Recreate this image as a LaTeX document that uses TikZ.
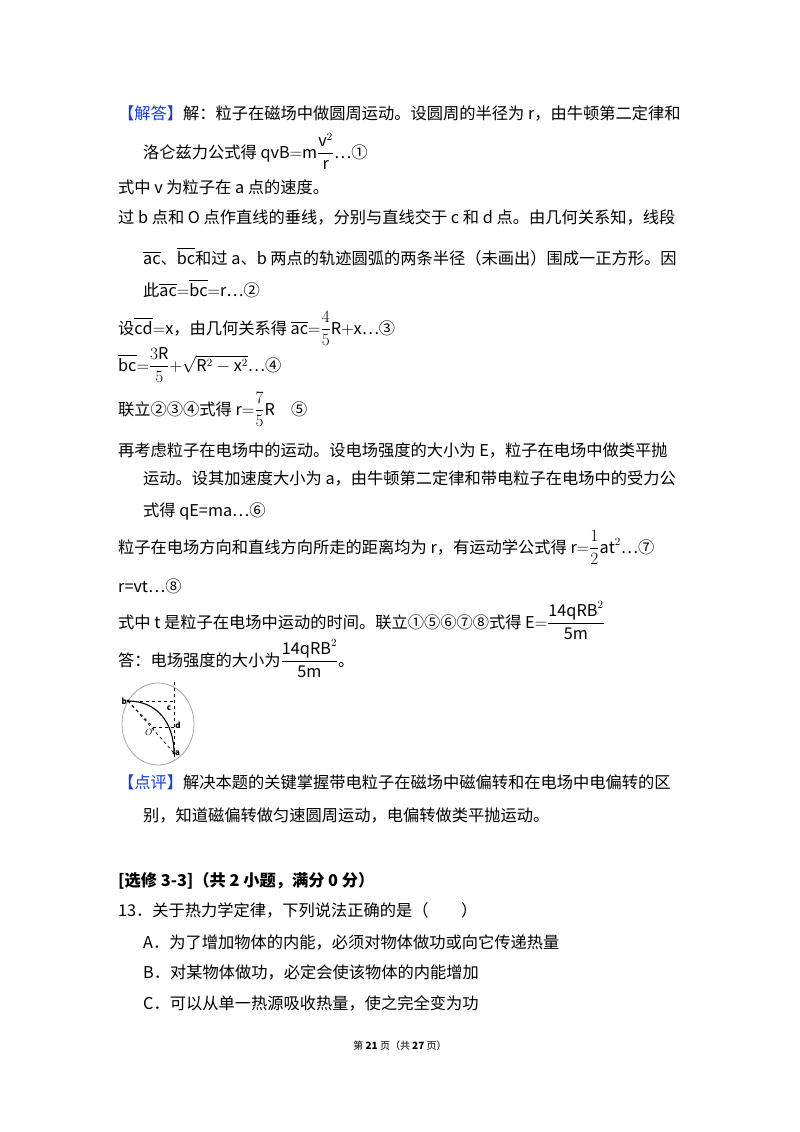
\documentclass[tikz,border=0pt]{standalone}
\usepackage{fontspec}
\usepackage{amsmath}
\setmainfont{Noto Sans CJK SC}
\definecolor{jdblue}{RGB}{20,60,230}
\newcommand{\T}[3]{\node[anchor=base west,inner sep=0pt] at (#1pt,-#2pt) {#3};}
\begin{document}
\begin{tikzpicture}[x=1pt,y=1pt,font=\fontsize{16.25}{18}\selectfont]
\useasboundingbox[fill=white] (0,0) rectangle (800,-1132);
\T{118}{119}{\textcolor{jdblue}{【解答】}解：粒子在磁场中做圆周运动。设圆周的半径为 r，由牛顿第二定律和}
\T{143}{158}{洛仑兹力公式得 $\mathrm{qvB{=}m}\dfrac{\mathrm{v}^2}{\mathrm{r}}$…①}
\T{118}{193}{式中 v 为粒子在 a 点的速度。}
\T{118}{223}{过 b 点和 O 点作直线的垂线，分别与直线交于 c 和 d 点。由几何关系知，线段}
\T{143}{264}{$\overline{\mathrm{ac}}$、$\overline{\mathrm{bc}}$和过 a、b 两点的轨迹圆弧的两条半径（未画出）围成一正方形。因}
\T{143}{296}{此$\overline{\mathrm{ac}}{=}\overline{\mathrm{bc}}{=}\mathrm{r}$…②}
\T{118}{334}{设$\overline{\mathrm{cd}}{=}\mathrm{x}$，由几何关系得 $\overline{\mathrm{ac}}{=}\dfrac{4}{5}\mathrm{R}{+}\mathrm{x}$…③}
\T{118}{371}{$\overline{\mathrm{bc}}{=}\dfrac{3\mathrm{R}}{5}{+}\sqrt{\mathrm{R}^2-\mathrm{x}^2}$…④}
\T{118}{415}{联立②③④式得 $\mathrm{r}{=}\dfrac{7}{5}\mathrm{R}$\quad ⑤}
\T{118}{456}{再考虑粒子在电场中的运动。设电场强度的大小为 E，粒子在电场中做类平抛}
\T{143}{484}{运动。设其加速度大小为 a，由牛顿第二定律和带电粒子在电场中的受力公}
\T{143}{516}{式得 qE=ma…⑥}
\T{118}{553}{粒子在电场方向和直线方向所走的距离均为 r，有运动学公式得 $\mathrm{r}{=}\dfrac{1}{2}\mathrm{at}^2$…⑦}
\T{118}{592}{r=vt…⑧}
\T{118}{628}{式中 t 是粒子在电场中运动的时间。联立①⑤⑥⑦⑧式得 $\mathrm{E}{=}\dfrac{\mathrm{14qRB}^2}{\mathrm{5m}}$}
\T{118}{666}{答：电场强度的大小为$\dfrac{\mathrm{14qRB}^2}{\mathrm{5m}}$。}
% figure
\draw[gray!70,line width=0.8] (158,-724) ellipse [x radius=36,y radius=41];
\draw[dashed,line width=0.7] (174,-682) -- (174,-760);
\coordinate (b) at (128,-701); \coordinate (a) at (174,-753);
\coordinate (c) at (174,-701); \coordinate (d) at (174,-727);
\coordinate (O) at (153,-727);
\draw[dashed,line width=0.7] (b) -- (c);
\draw[dashed,line width=0.7] (O) -- (d);
\draw[dashed,line width=0.7] (b) -- (a);
\draw[dashed,line width=0.7] (b) -- (O);
\draw[line width=1.1] (b) .. controls (158,-701) and (174,-724) .. (a);
\fill (b) circle (1.6); \fill (a) circle (1.6);
\node[font=\fontsize{8}{9}\selectfont\bfseries,left,inner sep=1pt] at (b) {b};
\node[font=\fontsize{8}{9}\selectfont\bfseries,right,inner sep=1pt] at (a) {a};
\node[font=\fontsize{8}{9}\selectfont\bfseries,inner sep=0pt] at (169,-708) {c};
\node[font=\fontsize{8}{9}\selectfont\bfseries,inner sep=0pt] at (178,-725) {d};
\node[font=\fontsize{9}{9}\selectfont\itshape,inner sep=0pt] at (150,-732) {$O'$};
\T{118}{788}{\textcolor{jdblue}{【点评】}解决本题的关键掌握带电粒子在磁场中磁偏转和在电场中电偏转的区}
\T{143}{821}{别，知道磁偏转做匀速圆周运动，电偏转做类平抛运动。}
\T{118}{886}{\bfseries [选修 3-3]（共 2 小题，满分 0 分）}
\T{118}{916}{13．关于热力学定律，下列说法正确的是（\qquad）}
\T{143}{948}{A．为了增加物体的内能，必须对物体做功或向它传递热量}
\T{143}{978}{B．对某物体做功，必定会使该物体的内能增加}
\T{143}{1009}{C．可以从单一热源吸收热量，使之完全变为功}
\node[anchor=base,inner sep=0pt,font=\fontsize{10}{12}\selectfont] at (400,-1049) {第 \textbf{21} 页（共 \textbf{27} 页）};
\end{tikzpicture}
\end{document}
